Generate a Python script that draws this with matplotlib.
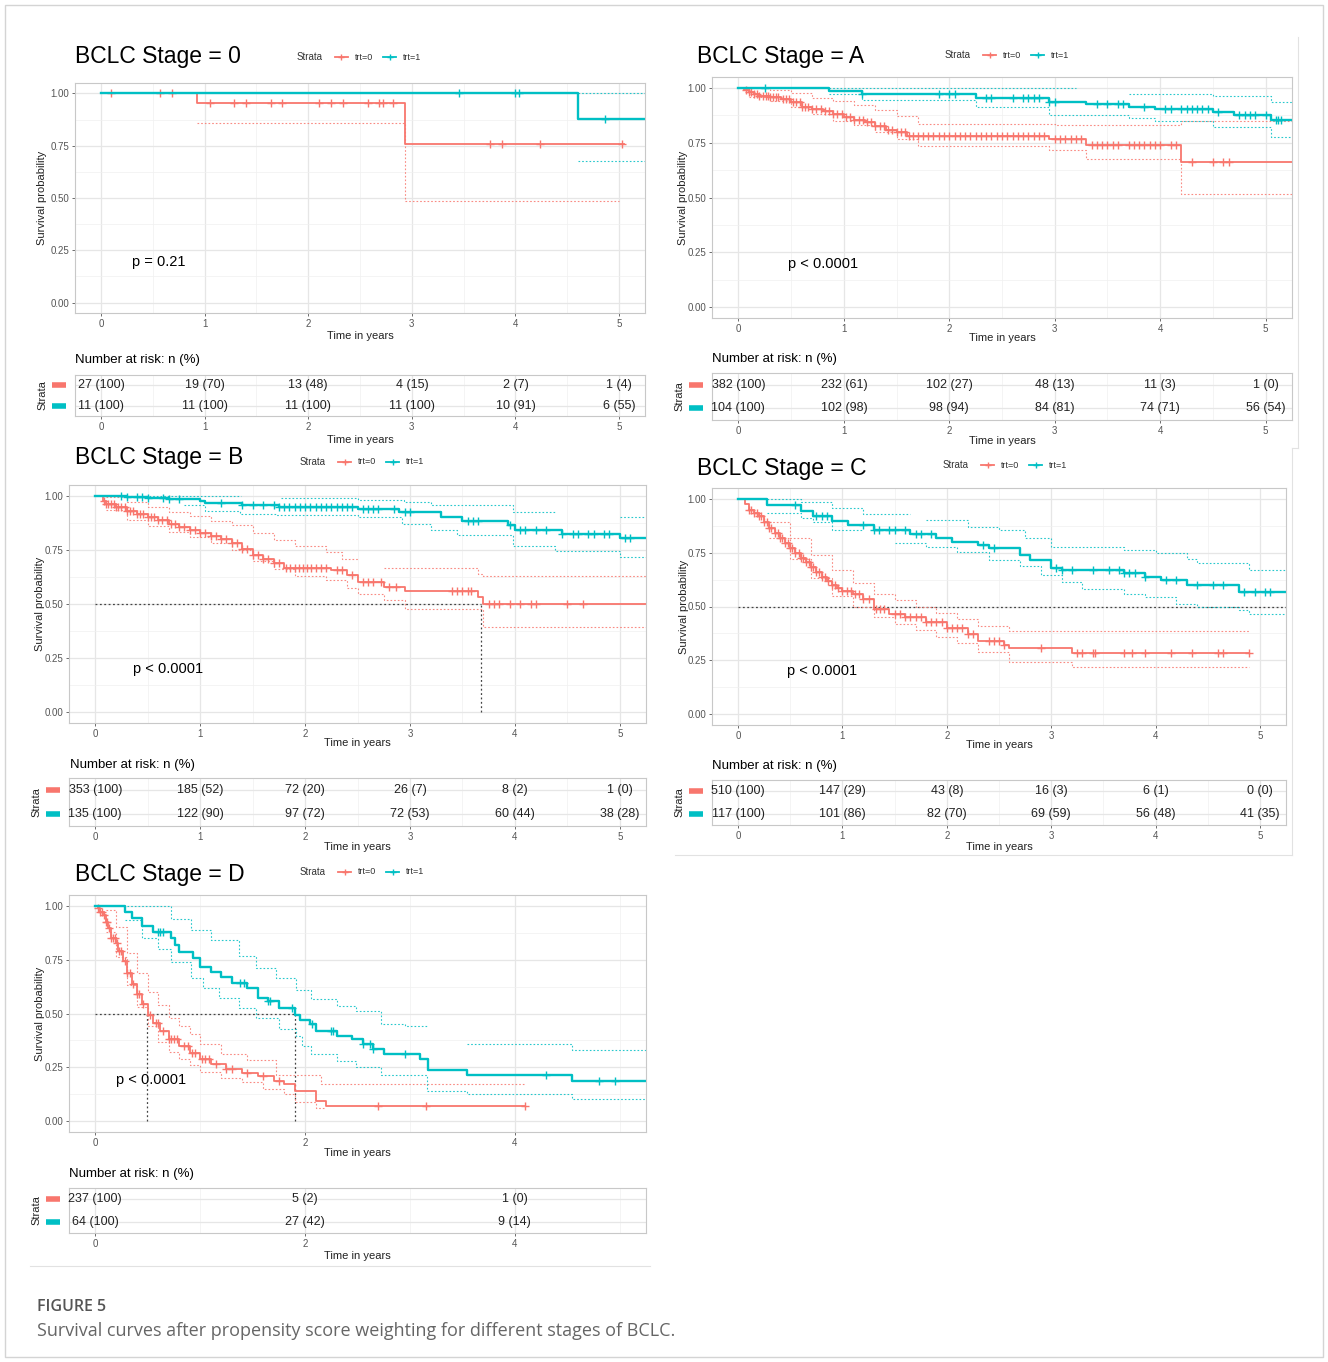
import matplotlib

matplotlib.use("Agg")
import matplotlib.pyplot as plt
import numpy as np
from matplotlib.lines import Line2D
from matplotlib.patches import Rectangle

plt.rcParams["font.family"] = ["Liberation Sans", "DejaVu Sans"]

RED = "#F8766D"
TEAL = "#00BFC4"
nan = float("nan")

# ---------------- Stage 0 ----------------
s0_red_t = [0, 0.93, 2.93]
s0_red_s = [1.0, 0.952, 0.76]
s0_red_lo_t = [0.93, 2.93]
s0_red_lo = [0.86, 0.485]
s0_red_cens = [0.1, 0.57, 0.69, 1.05, 1.28, 1.4, 1.64, 1.75, 2.1, 2.22, 2.34,
               2.58, 2.68, 2.72, 2.82, 3.75, 3.87, 4.24, 5.03]
s0_teal_t = [0, 4.6]
s0_teal_s = [1.0, 0.876]
s0_teal_lo_t = [4.6]
s0_teal_lo = [0.675]
s0_teal_up_t = [4.6]
s0_teal_up = [1.0]
s0_teal_cens = [3.46, 4.0, 4.03, 4.86]

# ---------------- Stage A ----------------
sa_red_t = [0, 0.05, 0.1, 0.15, 0.2, 0.3, 0.4, 0.5, 0.6, 0.7, 0.8, 0.9, 1.0,
            1.1, 1.2, 1.3, 1.4, 1.5, 1.6, 2.95, 3.3, 4.2]
sa_red_s = [1.0, 0.99, 0.98, 0.972, 0.965, 0.957, 0.948, 0.935, 0.915, 0.905,
            0.893, 0.88, 0.866, 0.855, 0.843, 0.825, 0.81, 0.797, 0.782, 0.766,
            0.74, 0.66]
sa_red_up_t = [0.1, 0.3, 0.5, 0.7, 0.9, 1.1, 1.3, 1.5, 1.7, 3.0, 4.2]
sa_red_up = [1.0, 0.99, 0.975, 0.955, 0.94, 0.92, 0.9, 0.87, 0.837, 0.83, 0.848]
sa_red_lo_t = [0.1, 0.3, 0.5, 0.7, 0.9, 1.1, 1.3, 1.5, 1.7, 2.95, 3.3, 4.2]
sa_red_lo = [0.96, 0.94, 0.915, 0.88, 0.85, 0.83, 0.8, 0.765, 0.735, 0.715,
             0.677, 0.517]
sa_red_cens = [0.07, 0.1, 0.12, 0.15, 0.18, 0.2, 0.23, 0.26, 0.28, 0.3, 0.33,
               0.36, 0.38, 0.42, 0.45, 0.48, 0.52, 0.55, 0.58, 0.6, 0.63, 0.66,
               0.7, 0.74, 0.78, 0.82, 0.86, 0.9, 0.94, 0.98, 1.02, 1.06, 1.1,
               1.14, 1.18, 1.22, 1.26, 1.3, 1.34, 1.38, 1.42, 1.46, 1.5, 1.54,
               1.58, 1.62, 1.66, 1.7, 1.75, 1.8, 1.85, 1.9, 1.95, 2.0, 2.05,
               2.1, 2.15, 2.2, 2.25, 2.3, 2.35, 2.4, 2.45, 2.5, 2.55, 2.6, 2.65,
               2.7, 2.75, 2.8, 2.85, 2.9, 3.0, 3.05, 3.1, 3.15, 3.2, 3.25, 3.35,
               3.4, 3.45, 3.5, 3.55, 3.6, 3.7, 3.75, 3.8, 3.85, 3.9, 3.95, 4.0,
               4.1, 4.15, 4.3, 4.5, 4.6, 4.65]
sa_teal_t = [0, 0.86, 1.17, 2.25, 2.95, 3.3, 3.7, 3.95, 4.5, 4.7, 5.05]
sa_teal_s = [1.0, 0.985, 0.972, 0.952, 0.937, 0.925, 0.915, 0.905, 0.89,
             0.877, 0.852]
sa_teal_up_t = [0.86, 3.2, 3.7, 4.5, 5.05]
sa_teal_up = [0.998, nan, 0.974, 0.962, 0.936]
sa_teal_lo_t = [0.86, 1.17, 2.25, 2.95, 3.7, 3.95, 4.5, 5.05]
sa_teal_lo = [0.974, 0.944, 0.913, 0.878, 0.864, 0.848, 0.82, 0.776]
sa_teal_cens = [0.25, 1.17, 1.9, 2.0, 2.05, 2.35, 2.4, 2.6, 2.7, 2.75, 2.8,
                2.85, 2.95, 3.0, 3.4, 3.5, 3.6, 3.65, 3.85, 4.05, 4.1, 4.2,
                4.25, 4.3, 4.35, 4.4, 4.45, 4.55, 4.75, 4.8, 4.85, 4.9, 5.0,
                5.1, 5.12, 5.15]

# ---------------- Stage B ----------------
sb_red_t = [0, 0.07, 0.1, 0.2, 0.3, 0.4, 0.5, 0.6, 0.7, 0.8, 0.9, 1.0, 1.1,
            1.2, 1.3, 1.4, 1.5, 1.6, 1.7, 1.8, 2.25, 2.4, 2.5, 2.75, 2.95,
            3.65, 3.7]
sb_red_s = [1.0, 0.975, 0.962, 0.948, 0.93, 0.917, 0.903, 0.888, 0.872, 0.855,
            0.84, 0.826, 0.812, 0.8, 0.782, 0.755, 0.728, 0.71, 0.69, 0.667,
            0.655, 0.632, 0.6, 0.58, 0.56, 0.534, 0.5]
sb_red_up_t = [0.1, 0.3, 0.5, 0.7, 0.9, 1.1, 1.3, 1.5, 1.7, 1.9, 2.2, 2.35,
               2.5, 2.75, 3.65, 3.7]
sb_red_up = [0.995, 0.97, 0.95, 0.925, 0.905, 0.885, 0.865, 0.83, 0.795, 0.77,
             0.74, 0.71, nan, 0.665, 0.64, 0.628]
sb_red_lo_t = [0.1, 0.3, 0.5, 0.7, 0.9, 1.1, 1.3, 1.5, 1.7, 1.9, 2.2, 2.4,
               2.5, 2.75, 2.95, 3.7]
sb_red_lo = [0.935, 0.89, 0.86, 0.835, 0.81, 0.78, 0.75, 0.7, 0.66, 0.63,
             0.61, 0.575, 0.545, 0.52, 0.475, 0.392]
sb_red_cens = [0.08, 0.1, 0.12, 0.15, 0.18, 0.2, 0.22, 0.25, 0.28, 0.3, 0.33,
               0.36, 0.4, 0.43, 0.46, 0.5, 0.53, 0.56, 0.6, 0.64, 0.68, 0.72,
               0.76, 0.8, 0.85, 0.9, 0.95, 1.0, 1.05, 1.1, 1.15, 1.2, 1.25,
               1.3, 1.35, 1.4, 1.45, 1.5, 1.55, 1.6, 1.65, 1.7, 1.75, 1.82,
               1.86, 1.9, 1.94, 1.98, 2.02, 2.06, 2.1, 2.15, 2.2, 2.3, 2.35,
               2.45, 2.55, 2.6, 2.65, 2.72, 2.8, 2.87, 3.4, 3.45, 3.5, 3.55,
               3.58, 3.75, 3.8, 3.85, 3.95, 4.05, 4.15, 4.2, 4.5, 4.65]
sb_teal_t = [0, 0.3, 0.5, 0.7, 1.0, 1.05, 1.4, 1.75, 2.5, 2.9, 3.3, 3.5, 3.93,
             4.0, 4.45, 5.0]
sb_teal_s = [1.0, 0.995, 0.99, 0.983, 0.975, 0.965, 0.957, 0.95, 0.938, 0.926,
             0.9, 0.883, 0.865, 0.84, 0.823, 0.806]
sb_teal_up_t = [0.3, 1.39, 1.77, 2.5, 2.94, 3.2, 3.98, 4.38, 5.0]
sb_teal_up = [1.0, nan, 0.988, 0.98, 0.972, 0.957, 0.923, nan, 0.903]
sb_teal_lo_t = [0.85, 1.05, 1.38, 1.72, 2.5, 2.92, 3.2, 3.45, 3.98, 4.38, 5.0]
sb_teal_lo = [0.957, 0.93, 0.915, 0.91, 0.9, 0.872, 0.84, 0.818, 0.768,
              0.745, 0.715]
sb_teal_cens = [0.25, 0.3, 0.4, 0.45, 0.5, 0.65, 0.7, 0.8, 1.2, 1.4, 1.5, 1.6,
                1.7, 1.75, 1.8, 1.85, 1.9, 1.95, 2.0, 2.05, 2.1, 2.15, 2.2,
                2.25, 2.3, 2.35, 2.4, 2.45, 2.55, 2.6, 2.65, 2.7, 2.85, 2.95,
                3.0, 3.55, 3.6, 3.65, 3.95, 4.05, 4.1, 4.2, 4.3, 4.45, 4.55,
                4.6, 4.7, 4.75, 4.85, 4.9, 5.05, 5.1]
sb_median = [3.68]

# ---------------- Stage C ----------------
sc_red_t = [0, 0.07, 0.1, 0.15, 0.2, 0.25, 0.3, 0.35, 0.4, 0.45, 0.5, 0.55,
            0.6, 0.65, 0.7, 0.75, 0.8, 0.85, 0.9, 0.95, 1.0, 1.1, 1.2, 1.3,
            1.45, 1.6, 1.8, 2.0, 2.2, 2.3, 2.55, 2.6, 3.2]
sc_red_s = [1.0, 0.975, 0.95, 0.935, 0.918, 0.89, 0.863, 0.84, 0.817, 0.793,
            0.77, 0.748, 0.727, 0.705, 0.685, 0.66, 0.638, 0.618, 0.6, 0.585,
            0.573, 0.556, 0.534, 0.49, 0.467, 0.449, 0.429, 0.4, 0.374, 0.338,
            0.32, 0.307, 0.284]
sc_red_up_t = [0.3, 0.5, 0.7, 0.9, 1.1, 1.3, 1.5, 1.7, 1.9, 2.1, 2.3, 2.6]
sc_red_up = [0.89, 0.82, 0.74, 0.67, 0.61, 0.56, 0.53, 0.5, 0.47, 0.44, 0.41,
             0.385]
sc_red_lo_t = [0.3, 0.5, 0.7, 0.9, 1.1, 1.3, 1.5, 1.7, 1.9, 2.1, 2.3, 2.6, 3.2]
sc_red_lo = [0.82, 0.72, 0.63, 0.55, 0.5, 0.45, 0.42, 0.39, 0.36, 0.33, 0.29,
             0.242, 0.219]
sc_red_cens = [0.1, 0.12, 0.15, 0.18, 0.2, 0.22, 0.25, 0.28, 0.3, 0.32, 0.35,
               0.38, 0.4, 0.42, 0.45, 0.48, 0.5, 0.52, 0.55, 0.58, 0.6, 0.62,
               0.65, 0.68, 0.7, 0.72, 0.75, 0.78, 0.8, 0.83, 0.86, 0.9, 0.93,
               0.96, 1.0, 1.04, 1.08, 1.12, 1.16, 1.2, 1.25, 1.32, 1.36, 1.4,
               1.5, 1.55, 1.6, 1.65, 1.7, 1.75, 1.8, 1.85, 1.9, 1.95, 2.0,
               2.05, 2.1, 2.15, 2.2, 2.25, 2.4, 2.45, 2.5, 2.55, 2.9, 3.25, 3.3,
               3.4, 3.42, 3.7, 3.77, 3.9, 4.15, 4.35, 4.6, 4.65, 4.9]
sc_teal_t = [0, 0.28, 0.6, 0.72, 0.9, 1.05, 1.3, 1.65, 1.9, 2.05, 2.3, 2.4,
             2.7, 2.8, 3.0, 3.1, 3.7, 3.9, 4.05, 4.3, 4.8]
sc_teal_s = [1.0, 0.969, 0.941, 0.918, 0.898, 0.879, 0.856, 0.835, 0.817,
             0.798, 0.786, 0.773, 0.739, 0.716, 0.68, 0.67, 0.655, 0.638,
             0.623, 0.6, 0.568]
sc_teal_up_t = [0.28, 0.6, 0.9, 1.2, 1.65, 1.8, 2.2, 2.5, 2.75, 3.0, 3.7, 4.0,
                4.3, 4.4, 4.9]
sc_teal_up = [1.0, 0.985, 0.956, 0.93, nan, 0.9, 0.87, 0.855, 0.82, 0.777,
              0.76, 0.746, 0.72, 0.7, 0.668]
sc_teal_lo_t = [0.28, 0.6, 0.72, 0.9, 1.2, 1.5, 1.8, 2.1, 2.4, 2.7, 2.9, 3.1,
                3.3, 3.7, 3.9, 4.2, 4.4, 4.8, 4.9]
sc_teal_lo = [0.933, 0.91, 0.894, 0.855, nan, 0.793, 0.777, 0.754, 0.715,
              0.69, 0.645, 0.614, 0.583, 0.56, 0.544, 0.513, 0.5, 0.486, 0.466]
sc_teal_cens = [0.55, 0.75, 0.8, 0.85, 1.2, 1.3, 1.35, 1.45, 1.5, 1.6, 1.7,
                1.75, 1.85, 2.35, 2.45, 3.05, 3.1, 3.2, 3.4, 3.55, 3.65, 3.7,
                3.75, 3.8, 3.9, 4.1, 4.2, 4.4, 4.55, 4.65, 4.85, 4.95, 5.05,
                5.1]

# ---------------- Stage D ----------------
sd_red_t = [0, 0.03, 0.05, 0.08, 0.1, 0.12, 0.15, 0.2, 0.22, 0.26, 0.3, 0.35,
            0.4, 0.45, 0.5, 0.55, 0.62, 0.7, 0.8, 0.9, 1.0, 1.1, 1.25, 1.4,
            1.55, 1.7, 1.8, 1.9, 2.1, 2.2]
sd_red_s = [1.0, 0.988, 0.972, 0.957, 0.926, 0.895, 0.849, 0.826, 0.788,
            0.742, 0.689, 0.635, 0.589, 0.543, 0.495, 0.457, 0.418, 0.38,
            0.349, 0.318, 0.288, 0.265, 0.242, 0.226, 0.211, 0.188, 0.172,
            0.138, 0.095, 0.069]
sd_red_up_t = [0.1, 0.2, 0.3, 0.4, 0.5, 0.6, 0.7, 0.8, 0.9, 1.0, 1.2, 1.45,
               1.72, 2.15]
sd_red_up = [0.98, 0.9, 0.78, 0.69, 0.6, 0.54, 0.48, 0.44, 0.405, 0.36, 0.314,
             0.283, 0.215, 0.175]
sd_red_lo_t = [0.1, 0.2, 0.3, 0.4, 0.5, 0.6, 0.7, 0.8, 0.9, 1.0, 1.2, 1.4, 1.6,
               1.8, 1.9, 2.1]
sd_red_lo = [0.88, 0.76, 0.63, 0.53, 0.44, 0.37, 0.32, 0.29, 0.26, 0.23, 0.2,
             0.18, 0.15, 0.125, 0.09, 0.06]
sd_red_cens = [0.03, 0.05, 0.06, 0.08, 0.1, 0.11, 0.13, 0.15, 0.17, 0.19,
               0.21, 0.23, 0.25, 0.28, 0.3, 0.33, 0.36, 0.4, 0.42, 0.46, 0.52,
               0.58, 0.6, 0.65, 0.7, 0.72, 0.75, 0.78, 0.85, 0.88, 0.92, 0.95,
               1.02, 1.05, 1.08, 1.15, 1.25, 1.3, 1.45, 1.6, 1.75, 2.7, 3.15,
               4.1]
sd_teal_t = [0, 0.28, 0.35, 0.45, 0.55, 0.72, 0.76, 0.8, 0.93, 1.0, 1.1, 1.2,
             1.3, 1.45, 1.55, 1.65, 1.75, 1.9, 1.95, 2.05, 2.1, 2.3, 2.45,
             2.55, 2.65, 2.75, 3.1, 3.17, 3.54, 4.54]
sd_teal_s = [1.0, 0.972, 0.942, 0.908, 0.877, 0.849, 0.818, 0.785, 0.757,
             0.718, 0.692, 0.668, 0.64, 0.618, 0.572, 0.557, 0.526, 0.495,
             0.472, 0.449, 0.418, 0.395, 0.38, 0.36, 0.334, 0.311, 0.288,
             0.237, 0.215, 0.188]
sd_teal_up_t = [0.3, 0.72, 0.91, 1.1, 1.37, 1.53, 1.72, 1.91, 2.06, 2.3, 2.49,
                2.72, 2.95, 3.16, 3.54, 4.54]
sd_teal_up = [1.0, 0.94, 0.886, 0.84, 0.765, 0.71, 0.665, 0.61, 0.565, 0.534,
              0.51, 0.45, 0.44, nan, 0.357, 0.33]
sd_teal_lo_t = [0.28, 0.45, 0.6, 0.72, 0.91, 1.03, 1.18, 1.37, 1.53, 1.75,
                1.91, 1.97, 2.06, 2.3, 2.49, 2.72, 3.16, 3.54, 4.54]
sd_teal_lo = [0.934, 0.85, 0.8, 0.74, 0.665, 0.62, 0.57, 0.525, 0.48, 0.43,
              0.395, 0.35, 0.31, 0.28, 0.25, 0.215, 0.14, 0.126, 0.103]
sd_teal_cens = [0.6, 0.62, 0.65, 1.38, 1.42, 1.65, 1.67, 1.88, 2.07, 2.25,
                2.27, 2.55, 2.62, 2.65, 2.95, 4.3, 4.8, 4.95]
sd_median = [0.49, 1.9]

# ---------------- number at risk ----------------
risk_times = [0, 1, 2, 3, 4, 5]
risk_times_d = [0, 2, 4]
r0_red = ["27 (100)", "19 (70)", "13 (48)", "4 (15)", "2 (7)", "1 (4)"]
r0_teal = ["11 (100)", "11 (100)", "11 (100)", "11 (100)", "10 (91)", "6 (55)"]
ra_red = ["382 (100)", "232 (61)", "102 (27)", "48 (13)", "11 (3)", "1 (0)"]
ra_teal = ["104 (100)", "102 (98)", "98 (94)", "84 (81)", "74 (71)", "56 (54)"]
rb_red = ["353 (100)", "185 (52)", "72 (20)", "26 (7)", "8 (2)", "1 (0)"]
rb_teal = ["135 (100)", "122 (90)", "97 (72)", "72 (53)", "60 (44)", "38 (28)"]
rc_red = ["510 (100)", "147 (29)", "43 (8)", "16 (3)", "6 (1)", "0 (0)"]
rc_teal = ["117 (100)", "101 (86)", "82 (70)", "69 (59)", "56 (48)", "41 (35)"]
rd_red = ["237 (100)", "5 (2)", "1 (0)"]
rd_teal = ["64 (100)", "27 (42)", "9 (14)"]

W, H = 1328, 1362
fig = plt.figure(figsize=(W / 100, H / 100), dpi=100)


def fx(x):
    return x / W


def fy(y):
    return 1 - y / H


def ax_px(l, t, r, b):
    return fig.add_axes([fx(l), fy(b), (r - l) / W, (b - t) / H])


def step(ax, t, v, end, **kw):
    ax.step(list(t) + [end], list(v) + [v[-1]], where="post", **kw)


def style_axes(ax, xticks, xminor):
    ax.set_xlim(-0.25, 5.25)
    ax.set_xticks(xticks)
    ax.set_xticks(xminor, minor=True)
    ax.grid(True, which="major", color="#e6e6e6", lw=0.9)
    ax.grid(True, which="minor", color="#f0f0f0", lw=0.5)
    ax.set_axisbelow(True)
    for sp in ax.spines.values():
        sp.set_color("#c8c8c8")
        sp.set_linewidth(0.8)
    ax.tick_params(which="major", length=2, width=0.6, color="#555555",
                   labelsize=7, labelcolor="#555555", pad=2)
    ax.tick_params(which="minor", length=0)


def panel(title, tx, ty, lx, ly, box, rbox, xlab_y, ylab_x, ptext, pxy, nar_xy,
          rxlab_y, xticks, xminor, curves, rtimes, rred, rteal,
          median_h=None, median_v=()):
    fig.text(fx(tx), fy(ty), title, fontsize=16.5, ha="left", va="center")
    # legend
    fig.text(fx(lx), fy(ly), "Strata", fontsize=7, color="#333333",
             ha="left", va="center")
    for off, col, lab in [(38, RED, "trt=0"), (86, TEAL, "trt=1")]:
        fig.add_artist(Line2D([fx(lx + off), fx(lx + off + 13)], [fy(ly), fy(ly)],
                              color=col, lw=1.3, transform=fig.transFigure))
        fig.add_artist(Line2D([fx(lx + off + 6.5)], [fy(ly)], marker="+", ms=5,
                              mew=1, color=col, transform=fig.transFigure))
        fig.text(fx(lx + off + 20), fy(ly), lab, fontsize=6.5, color="#333333",
                 ha="left", va="center")

    ax = ax_px(*box)
    style_axes(ax, xticks, xminor)
    ax.set_ylim(-0.05, 1.05)
    ax.set_yticks([0, 0.25, 0.5, 0.75, 1.0])
    ax.set_yticklabels(["0.00", "0.25", "0.50", "0.75", "1.00"])
    ax.set_yticks([0.125, 0.375, 0.625, 0.875], minor=True)

    if median_h is not None:
        ax.plot([0, median_h], [0.5, 0.5], color="#444444", lw=0.9,
                ls=(0, (1.5, 2)))
    for m in median_v:
        ax.plot([m, m], [0, 0.5], color="#444444", lw=0.9, ls=(0, (1.5, 2)))

    for c in curves:
        col = c["color"]
        for key in ("lo", "up"):
            if key in c:
                ct, cv, cend = c[key]
                step(ax, ct, cv, cend, color=col, lw=0.8, ls=(0, (1.5, 1.8)),
                     alpha=0.85)
        step(ax, c["t"], c["s"], c["end"], color=col, lw=c["lw"])
        cens = np.asarray(c["cens"])
        idx = np.searchsorted(c["t"], cens, side="right") - 1
        ax.plot(cens, np.asarray(c["s"])[idx], ls="none", marker="+", ms=5.5,
                mew=1.0, color=col)

    fig.text(fx(pxy[0]), fy(pxy[1]), ptext, fontsize=10.5, ha="left", va="center")
    xmid = (box[0] + box[2]) / 2
    fig.text(fx(xmid), fy(xlab_y), "Time in years", fontsize=8, color="#222222",
             ha="center", va="center")
    fig.text(fx(ylab_x), fy((box[1] + box[3]) / 2), "Survival probability",
             fontsize=8, color="#222222", rotation=90, ha="center", va="center")

    # risk table
    fig.text(fx(nar_xy[0]), fy(nar_xy[1]), "Number at risk: n (%)", fontsize=9.5,
             ha="left", va="center")
    rax = ax_px(*rbox)
    style_axes(rax, xticks, xminor)
    rax.set_ylim(0.5, 2.5)
    rax.set_yticks([1, 2])
    rax.set_yticklabels(["", ""])
    rax.tick_params(axis="y", length=0)
    for tt, a, b in zip(rtimes, rred, rteal):
        rax.text(tt, 2, a, fontsize=9, ha="center", va="center", color="#222222")
        rax.text(tt, 1, b, fontsize=9, ha="center", va="center", color="#222222")
    tr = rax.get_yaxis_transform()
    for yy, col in [(2, RED), (1, TEAL)]:
        rax.plot([-0.04, -0.015], [yy, yy], color=col, lw=4, transform=tr,
                 clip_on=False, solid_capstyle="butt")
    fig.text(fx(rbox[0] - 33), fy((rbox[1] + rbox[3]) / 2), "Strata", fontsize=8,
             rotation=90, ha="center", va="center", color="#222222")
    fig.text(fx(xmid), fy(rxlab_y), "Time in years", fontsize=8,
             color="#222222", ha="center", va="center")


T5 = [0, 1, 2, 3, 4, 5]
M5 = [0.5, 1.5, 2.5, 3.5, 4.5]

panel("BCLC Stage = 0", 75, 57, 297, 57, (75, 83, 645, 313), (75, 375, 645, 416),
      336, 42, "p = 0.21", (132, 262), (75, 360), 440, T5, M5,
      [dict(color=RED, lw=1.3, t=s0_red_t, s=s0_red_s, end=5.05,
            lo=(s0_red_lo_t, s0_red_lo, 5.0), cens=s0_red_cens),
       dict(color=TEAL, lw=1.7, t=s0_teal_t, s=s0_teal_s, end=5.25,
            lo=(s0_teal_lo_t, s0_teal_lo, 5.25), up=(s0_teal_up_t, s0_teal_up, 5.25),
            cens=s0_teal_cens)],
      risk_times, r0_red, r0_teal)

panel("BCLC Stage = A", 697, 57, 945, 55, (712, 77, 1292, 318), (712, 373, 1292, 420),
      338, 683, "p < 0.0001", (788, 264), (712, 359), 441, T5, M5,
      [dict(color=RED, lw=1.3, t=sa_red_t, s=sa_red_s, end=5.25,
            lo=(sa_red_lo_t, sa_red_lo, 5.25), up=(sa_red_up_t, sa_red_up, 5.25),
            cens=sa_red_cens),
       dict(color=TEAL, lw=1.7, t=sa_teal_t, s=sa_teal_s, end=5.25,
            lo=(sa_teal_lo_t, sa_teal_lo, 5.25), up=(sa_teal_up_t, sa_teal_up, 5.25),
            cens=sa_teal_cens)],
      risk_times, ra_red, ra_teal)

panel("BCLC Stage = B", 75, 458, 300, 462, (69, 485, 646, 723), (69, 778, 646, 826),
      743, 40, "p < 0.0001", (133, 669), (70, 765), 847, T5, M5,
      [dict(color=RED, lw=1.3, t=sb_red_t, s=sb_red_s, end=5.25,
            lo=(sb_red_lo_t, sb_red_lo, 5.25), up=(sb_red_up_t, sb_red_up, 5.25),
            cens=sb_red_cens),
       dict(color=TEAL, lw=1.7, t=sb_teal_t, s=sb_teal_s, end=5.25,
            lo=(sb_teal_lo_t, sb_teal_lo, 5.25), up=(sb_teal_up_t, sb_teal_up, 5.25),
            cens=sb_teal_cens)],
      risk_times, rb_red, rb_teal, median_h=sb_median[0], median_v=sb_median)

panel("BCLC Stage = C", 697, 469, 943, 465, (712, 488, 1286, 725), (712, 780, 1286, 825),
      745, 684, "p < 0.0001", (787, 671), (712, 766), 847, T5, M5,
      [dict(color=RED, lw=1.3, t=sc_red_t, s=sc_red_s, end=4.9,
            lo=(sc_red_lo_t, sc_red_lo, 4.9), up=(sc_red_up_t, sc_red_up, 4.9),
            cens=sc_red_cens),
       dict(color=TEAL, lw=1.7, t=sc_teal_t, s=sc_teal_s, end=5.25,
            lo=(sc_teal_lo_t, sc_teal_lo, 5.25), up=(sc_teal_up_t, sc_teal_up, 5.25),
            cens=sc_teal_cens)],
      risk_times, rc_red, rc_teal, median_h=5.25)

panel("BCLC Stage = D", 75, 875, 300, 872, (69, 895, 646, 1132), (69, 1188, 646, 1233),
      1153, 40, "p < 0.0001", (116, 1080), (69, 1174), 1256, [0, 2, 4], [1, 3, 5],
      [dict(color=RED, lw=1.3, t=sd_red_t, s=sd_red_s, end=4.1,
            lo=(sd_red_lo_t, sd_red_lo, 2.2), up=(sd_red_up_t, sd_red_up, 4.1),
            cens=sd_red_cens),
       dict(color=TEAL, lw=1.7, t=sd_teal_t, s=sd_teal_s, end=5.25,
            lo=(sd_teal_lo_t, sd_teal_lo, 5.25), up=(sd_teal_up_t, sd_teal_up, 5.25),
            cens=sd_teal_cens)],
      risk_times_d, rd_red, rd_teal, median_h=sd_median[1], median_v=sd_median)

# faint edges of the pasted sub-images
for xs, ys in [([1298, 1298], [37, 448]), ([1292, 1298], [448, 448]),
               ([1292, 1292], [448, 855]), ([675, 1292], [855, 855]),
               ([30, 650], [1266, 1266])]:
    fig.add_artist(Line2D([fx(x) for x in xs], [fy(y) for y in ys],
                          color="#e2e2e2", lw=0.8, transform=fig.transFigure))

# outer frame
fig.add_artist(Rectangle((fx(5), fy(1357)), (1318) / W, (1352) / H, fill=False,
                         edgecolor="#d4d4d4", lw=1, transform=fig.transFigure))

fig.text(fx(37), fy(1307), "FIGURE 5", fontsize=11.5, fontfamily="Open Sans",
         fontweight="semibold", color="#555555", ha="left", va="center")
fig.text(fx(37), fy(1331),
         "Survival curves after propensity score weighting for different stages of BCLC.",
         fontsize=13, fontfamily="Open Sans", color="#666666", ha="left",
         va="center")

fig.savefig("out.png", dpi=100)
